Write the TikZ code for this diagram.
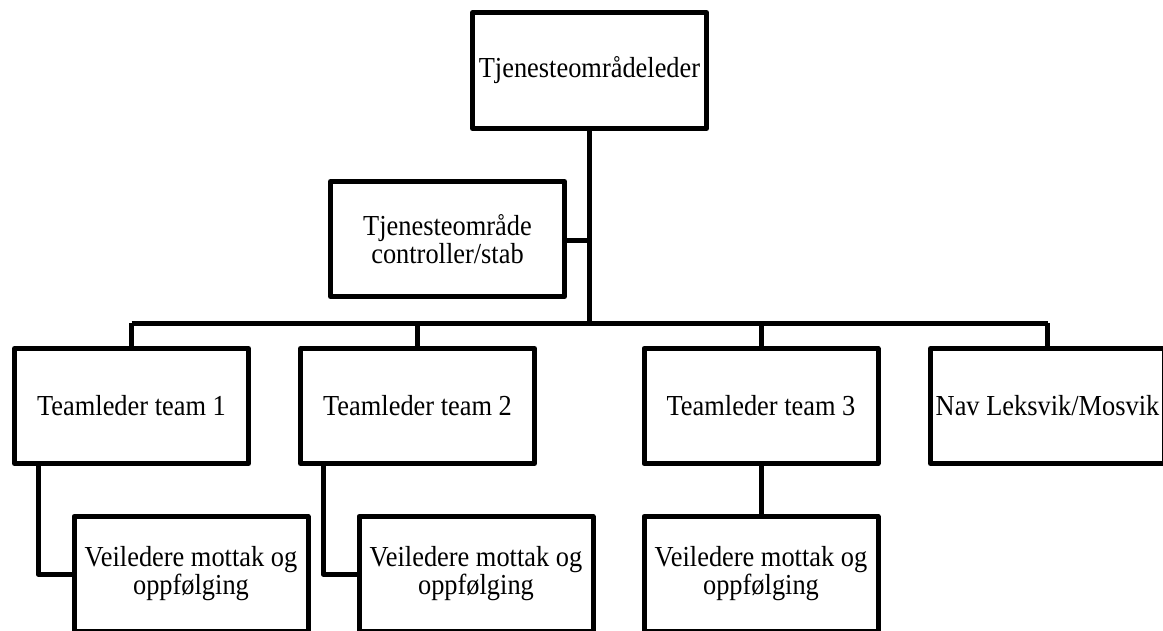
\documentclass[tikz,border=0pt]{standalone}
\usepackage{fontspec}
\setmainfont{Liberation Serif}
\newcommand\sq[1]{\scalebox{0.91}[1]{\parbox{255pt}{\centering\lineskiplimit=-100pt #1}}}
\begin{document}
\begin{tikzpicture}[x=1pt,y=-1pt,
  orgbox/.style={draw=black,line width=5pt,line join=round,fill=white,
    minimum width=234pt,minimum height=115pt,inner sep=0pt,outer sep=0pt,
    align=center,font=\fontsize{29}{28}\selectfont},
  link/.style={draw=black,line width=5pt,line join=round}]
\useasboundingbox (0,0) rectangle (1163,630);
\clip (0,0) rectangle (1163,630);
\node[orgbox,minimum height=116pt] (top) at (589.5,70.5) {\sq{Tjenesteområdeleder}};
\node[orgbox] (ctrl) at (447.5,239) {\sq{Tjenesteområde\\controller/stab}};
\node[orgbox] (t1) at (131.5,406) {\sq{Teamleder team 1}};
\node[orgbox] (t2) at (417.5,406) {\sq{Teamleder team 2}};
\node[orgbox] (t3) at (761,406) {\sq{Teamleder team 3}};
\node[orgbox] (nav) at (1047.5,406) {\sq{Nav Leksvik/Mosvik}};
\node[orgbox] (v1) at (191,574) {\sq{Veiledere mottak og\\oppfølging}};
\node[orgbox] (v2) at (476,574) {\sq{Veiledere mottak og\\oppfølging}};
\node[orgbox] (v3) at (761,574) {\sq{Veiledere mottak og\\oppfølging}};
\coordinate (bus) at (589.5,323);
\draw[link] (top.south) -- (bus);
\draw[link] ([yshift=-1pt]ctrl.east) -- ([yshift=-1pt]ctrl.east -| top.south);
\draw[link] (t1 |- bus) -- (nav |- bus);
\draw[link] (t1 |- bus) -- (t1.north);
\draw[link] (t2 |- bus) -- (t2.north);
\draw[link] (t3 |- bus) -- (t3.north);
\draw[link] (nav |- bus) -- (nav.north);
\draw[link] ([xshift=23.5pt]t1.south west) |- (v1.west);
\draw[link] ([xshift=22.5pt]t2.south west) |- (v2.west);
\draw[link] (t3.south) -- (v3.north);
\end{tikzpicture}
\end{document}
